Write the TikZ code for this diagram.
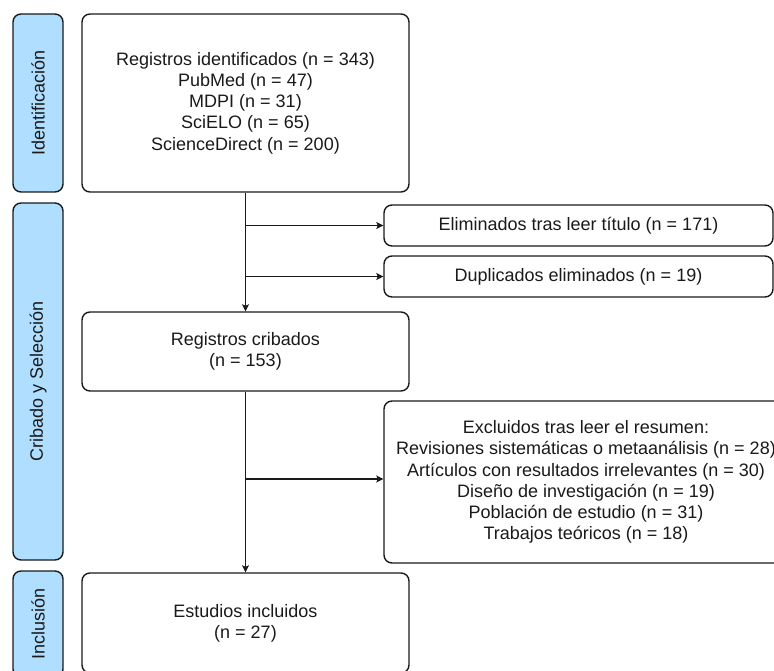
\documentclass[tikz,border=0pt]{standalone}
\usepackage{fontspec}
\setmainfont{Liberation Sans}
\usetikzlibrary{arrows.meta}
\definecolor{phase}{RGB}{176,222,255}
\definecolor{ink}{RGB}{26,26,26}
\begin{document}
\begin{tikzpicture}[x=1pt,y=-1pt,
  every node/.style={font=\fontsize{18}{21.3}\selectfont, text=ink},
  box/.style={draw=ink, line width=1.4pt, rounded corners=8pt, fill=white, align=center, inner sep=0pt},
  phasebox/.style={draw=ink, line width=1.4pt, rounded corners=8pt, fill=phase, rotate=90, minimum height=50pt, inner sep=0pt},
  conn/.style={draw=ink, line width=1.4pt, -{Stealth[length=7pt,width=7pt,inset=1.5pt]}}
]
\useasboundingbox (0,0) rectangle (774,671);

% phase labels
\node[phasebox, minimum width=178pt] (pid) at (38,103) {Identificación};
\node[phasebox, minimum width=357pt] (pcs) at (38,381.5) {Cribado y Selección};
\node[phasebox, minimum width=106pt] (pin) at (38,624) {Inclusión};

% main boxes
\node[box, minimum width=327pt, minimum height=178pt] (ident) at (245.5,103)
  {Registros identificados (n = 343)\\PubMed (n = 47)\\MDPI (n = 31)\\SciELO (n = 65)\\ScienceDirect (n = 200)};
\node[box, minimum width=389pt, minimum height=41pt] (elim) at (578.5,225.5)
  {Eliminados tras leer título (n = 171)};
\node[box, minimum width=389pt, minimum height=41pt] (dup) at (578.5,276.5)
  {Duplicados eliminados (n = 19)};
\node[box, minimum width=327pt, minimum height=79pt] (crib) at (245.5,351.5)
  {Registros cribados\\(n = 153)};
\node[box, minimum width=404pt, minimum height=162pt] (excl) at (586,482)
  {Excluidos tras leer el resumen:\\Revisiones sistemáticas o metaanálisis (n = 28)\\Artículos con resultados irrelevantes (n = 30)\\Diseño de investigación (n = 19)\\Población de estudio (n = 31)\\Trabajos teóricos (n = 18)};
\node[box, minimum width=327pt, minimum height=100pt] (incl) at (245.5,623)
  {Estudios incluidos\\(n = 27)};

% connectors
\coordinate (b1) at (245.5,225.5);
\coordinate (b2) at (245.5,276.5);
\coordinate (b3) at (245.5,479);
\draw[conn] (ident.south) -- (crib.north);
\draw[conn] (b1) -- (b1 -| elim.west);
\draw[conn] (b2) -- (b2 -| dup.west);
\draw[conn] (crib.south) -- (incl.north);
\draw[conn] (b3) -- (b3 -| excl.west);
\end{tikzpicture}
\end{document}
